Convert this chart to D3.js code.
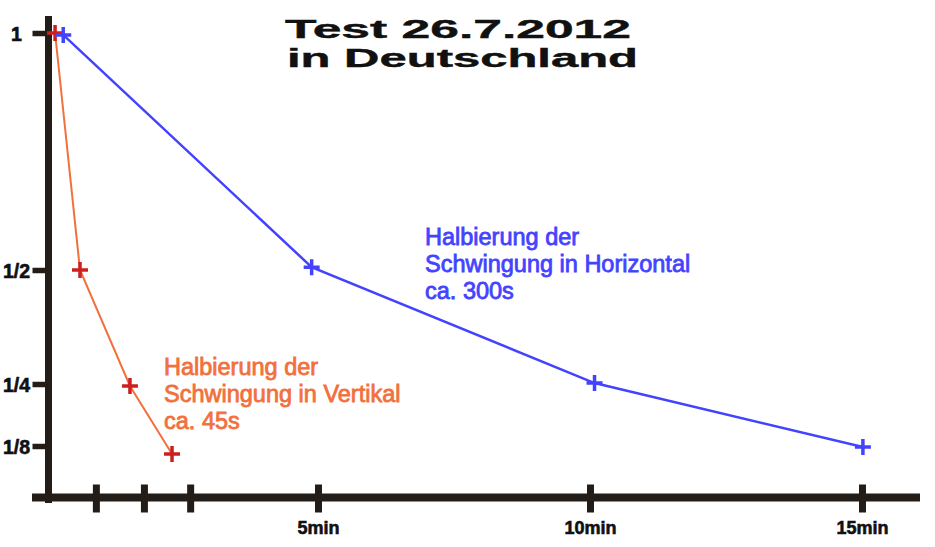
<!DOCTYPE html>
<html><head><meta charset="utf-8">
<script src="https://cdn.jsdelivr.net/npm/d3@7"></script>
<style>
html,body{margin:0;padding:0;background:#fff;}
svg{display:block;}
</style></head>
<body>
<svg id="chart" width="935" height="547"></svg>
<script>
// ---- data ----
const titleLines = ["Test 26.7.2012", "in Deutschland"];
// time in seconds, amplitude relative to start
const horizTime = [19, 293, 605, 901];
const horizAmp  = [0.996, 0.506, 0.252, 0.123];
const vertTime  = [10, 37.5, 92.6, 139];
const vertAmp   = [1, 0.5, 0.246, 0.109];
const xTickValues = [55, 108, 159, 300, 600, 900];
const xTickLabels = ["", "", "", "5min", "10min", "15min"];
const yTickValues = [1, 0.5, 0.25, 0.125];
const yTickLabels = ["1", "1/2", "1/4", "1/8"];
const horizNote = ["Halbierung der", "Schwingung in Horizontal", "ca. 300s"];
const vertNote  = ["Halbierung der", "Schwingung in Vertikal", "ca. 45s"];

const svg = d3.select("#chart");
const axisCol = "#231c17";
const blue = "#4343ff", orange = "#f2703c", red = "#cc2020";

const x = d3.scaleLinear().domain([0, 900]).range([46, 862]);
const y = d3.scaleLinear().domain([0.125, 0.25, 0.5, 1]).range([446, 384, 270, 33]);

const axX = 48.5, axY = 497.5;

// y axis
const yAxis = d3.axisLeft(y).tickValues(yTickValues)
  .tickFormat((d,i)=>yTickLabels[i]).tickSize(16).tickPadding(0);
const gy = svg.append("g").attr("transform",`translate(${axX},0)`).call(yAxis);
gy.select(".domain").remove();
gy.selectAll(".tick line").attr("stroke", axisCol).attr("stroke-width", 5.5);
gy.selectAll(".tick text").attr("x", -32).attr("dy","0.36em")
  .attr("text-anchor","middle").attr("fill","#111").attr("stroke","#111").attr("stroke-width",0.6)
  .style("font-family","Liberation Sans, Arial, sans-serif")
  .style("font-size","19.5px").style("font-weight","bold");

// x axis
const xAxis = d3.axisBottom(x).tickValues(xTickValues)
  .tickFormat((d,i)=>xTickLabels[i]).tickSize(15).tickPadding(0);
const gx = svg.append("g").attr("transform",`translate(0,${axY})`).call(xAxis);
gx.select(".domain").remove();
gx.selectAll(".tick line").attr("y1",-13).attr("y2",15)
  .attr("stroke", axisCol).attr("stroke-width", 7);
gx.selectAll(".tick text").attr("y", 36).attr("dy","0").attr("fill","#111")
  .attr("stroke","#111").attr("stroke-width",0.6)
  .style("font-family","Liberation Sans, Arial, sans-serif")
  .style("font-size","18px").style("font-weight","bold");

// axis lines
svg.append("line").attr("x1",32).attr("x2",920).attr("y1",axY).attr("y2",axY)
  .attr("stroke",axisCol).attr("stroke-width",8);
svg.append("line").attr("x1",axX).attr("x2",axX).attr("y1",16).attr("y2",503)
  .attr("stroke",axisCol).attr("stroke-width",7);

// title
svg.append("g").selectAll("text").data(titleLines).join("text")
  .attr("x", (d,i)=> i===0 ? 285 : 287)
  .attr("y", (d,i)=> i===0 ? 38 : 67)
  .attr("textLength", (d,i)=> i===0 ? 346 : 351)
  .attr("lengthAdjust","spacingAndGlyphs")
  .attr("fill","#111").attr("stroke","#111").attr("stroke-width",0.4)
  .style("font-family","Liberation Sans, Arial, sans-serif")
  .style("font-size","25px").style("font-weight","bold")
  .text(d=>d);

// lines
const line = d3.line().x(d=>x(d[0])).y(d=>y(d[1]));
const vertData = vertTime.map((t,i)=>[t, vertAmp[i]]);
const horizData = horizTime.map((t,i)=>[t, horizAmp[i]]);

svg.append("path").datum(vertData).attr("d", line)
  .attr("fill","none").attr("stroke",orange).attr("stroke-width",2);
svg.append("g").selectAll("path").data(vertData).join("path")
  .attr("d", d=>`M${x(d[0])-8},${y(d[1])}h16M${x(d[0])},${y(d[1])-8}v16`)
  .attr("stroke",red).attr("stroke-width",3.5).attr("fill","none");

svg.append("path").datum(horizData).attr("d", line)
  .attr("fill","none").attr("stroke",blue).attr("stroke-width",2.5);
svg.append("g").selectAll("path").data(horizData).join("path")
  .attr("d", d=>`M${x(d[0])-8},${y(d[1])}h16M${x(d[0])},${y(d[1])-8}v16`)
  .attr("stroke",blue).attr("stroke-width",3.5).attr("fill","none");

// annotations
function note(lines, x0, y0, col){
  svg.append("g").selectAll("text").data(lines).join("text")
    .attr("x", x0).attr("y",(d,i)=>y0 + i*27)
    .attr("fill", col).attr("stroke", col).attr("stroke-width",0.8)
    .style("font-family","Liberation Sans, Arial, sans-serif")
    .style("font-size","23.5px")
    .text(d=>d);
}
note(horizNote, 425, 245, blue);
note(vertNote, 164, 375, orange);
</script>
</body></html>
